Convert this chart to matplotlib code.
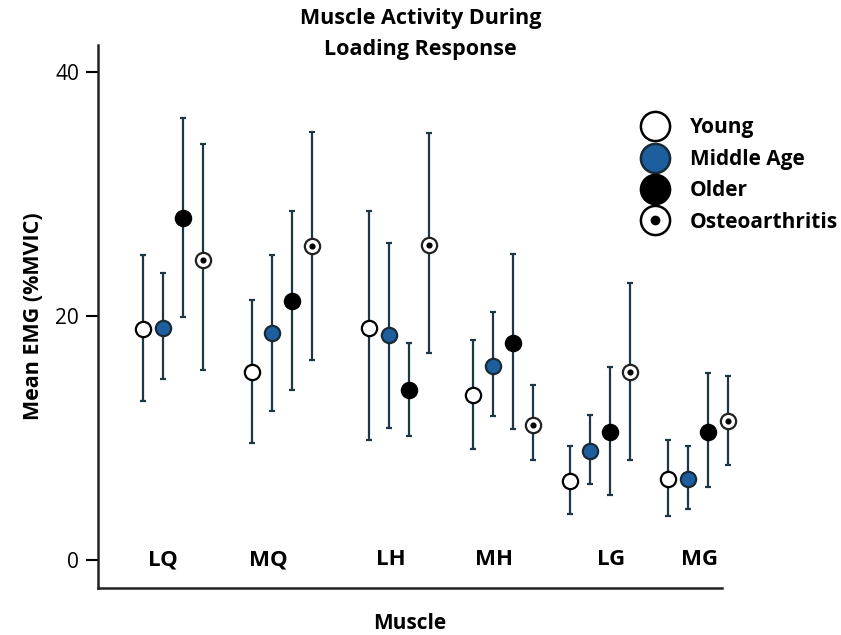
import numpy as np
import matplotlib
matplotlib.use("Agg")
import matplotlib.pyplot as plt
from matplotlib.lines import Line2D

plt.rcParams["font.family"] = ["Open Sans", "DejaVu Sans"]

muscles = ["LQ", "MQ", "LH", "MH", "LG", "MG"]
groups = ["Young", "Middle Age", "Older", "Osteoarthritis"]

# means and error bar ends (low, high) in %MVIC
young_mean = [18.9, 15.4, 19.0, 13.5, 6.5, 6.6]
young_low = [13.0, 9.6, 9.8, 9.1, 3.8, 3.6]
young_high = [25.0, 21.3, 28.6, 18.0, 9.3, 9.8]

middle_mean = [19.0, 18.6, 18.4, 15.9, 8.9, 6.6]
middle_low = [14.8, 12.2, 10.8, 11.8, 6.2, 4.2]
middle_high = [23.5, 25.0, 26.0, 20.3, 11.9, 9.3]

older_mean = [28.0, 21.2, 13.9, 17.8, 10.5, 10.5]
older_low = [19.9, 13.9, 10.2, 10.7, 5.3, 6.0]
older_high = [36.2, 28.6, 17.8, 25.1, 15.8, 15.3]

oa_mean = [24.6, 25.7, 25.8, 11.1, 15.4, 11.4]
oa_low = [15.6, 16.4, 17.0, 8.2, 8.2, 7.8]
oa_high = [34.1, 35.1, 35.0, 14.3, 22.7, 15.1]

err_color = "#1d3744"
blue = "#1c5e9e"

fig = plt.figure(figsize=(8.41, 6.35), dpi=100)
ax = fig.add_axes([0.1165, 0.074, 0.742, 0.855])

# group centres are not evenly spaced in the original
x = np.array([0, 1.04, 2.15, 3.14, 4.07, 5.0])
label_shift = [-0.1, -0.13, -0.07, -0.08, 0.1, 0.02]
step = 0.19
offsets = [-1.5 * step, -0.5 * step, 0.5 * step, 1.5 * step]

series = [
    (young_mean, young_low, young_high, "white", "black"),
    (middle_mean, middle_low, middle_high, blue, "#1a2a35"),
    (older_mean, older_low, older_high, "black", "black"),
    (oa_mean, oa_low, oa_high, "white", "#222222"),
]

for k, (mean, low, high, face, edge) in enumerate(series):
    mean = np.array(mean)
    yerr = [mean - np.array(low), np.array(high) - mean]
    xs = x + offsets[k]
    eb = ax.errorbar(xs, mean, yerr=yerr, fmt="none", ecolor=err_color,
                     elinewidth=1.6, capsize=2.2, capthick=1.6, zorder=2)
    for art in eb.lines[1] + eb.lines[2]:
        art.set_clip_on(False)
    ax.plot(xs, mean, "o", ms=11, mfc=face, mec=edge, mew=1.6,
            ls="none", zorder=3, clip_on=False)
    if k == 3:
        ax.plot(xs, mean, "o", ms=3.4, color="black", ls="none",
                zorder=4, clip_on=False)

# muscle names sit inside the axes at y = 0
for xi, dx, name in zip(x, label_shift, muscles):
    ax.text(xi + dx, 0, name, ha="center", va="center",
            fontsize=16, fontweight="bold")

ax.set_xlim(-0.714, 5.23)
ax.set_ylim(-2.3, 42.2)
ax.set_yticks([0, 20, 40])
ax.set_xticks([])
ax.tick_params(axis="y", direction="out", length=8.5, width=1.5,
               labelsize=15, pad=5)
for s in ["top", "right"]:
    ax.spines[s].set_visible(False)
for s in ["left", "bottom"]:
    ax.spines[s].set_linewidth(1.8)
    ax.spines[s].set_color("#222222")

ax.set_ylabel("Mean EMG (%MVIC)", fontsize=15.5, fontweight="bold", labelpad=8)
ax.set_xlabel("Muscle", fontsize=15, fontweight="bold", labelpad=18)
fig.suptitle("Muscle Activity During\nLoading Response", x=0.5, y=0.987,
             fontsize=15.5, fontweight="bold", linespacing=1.6)

handles = [
    Line2D([], [], marker="o", ls="none", ms=21, mfc="white", mec="black", mew=1.8),
    Line2D([], [], marker="o", ls="none", ms=21, mfc=blue, mec="#1a2a35", mew=1.8),
    Line2D([], [], marker="o", ls="none", ms=21, mfc="black", mec="black", mew=1.8),
    (Line2D([], [], marker="o", ls="none", ms=21, mfc="white", mec="black", mew=1.8),
     Line2D([], [], marker="o", ls="none", ms=6, color="black")),
]
ax.legend(handles, groups, loc="upper left", bbox_to_anchor=(0.852, 0.882),
          frameon=False, prop={"size": 15, "weight": "bold"},
          handletextpad=0.9, labelspacing=0.5, borderaxespad=0,
          handlelength=1.6)

fig.savefig("out.png", dpi=100)
